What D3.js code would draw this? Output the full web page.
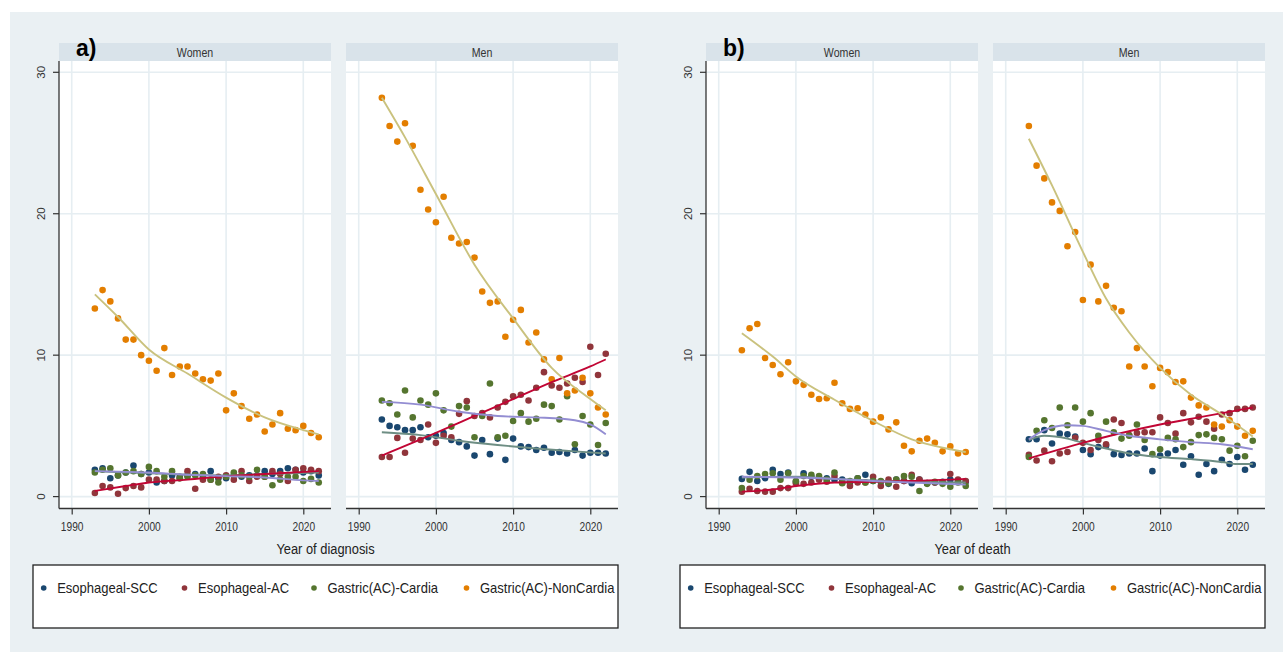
<!DOCTYPE html>
<html>
<head>
<meta charset="utf-8">
<script src="https://cdn.jsdelivr.net/npm/d3@7"></script>
<style>
  body { margin: 0; background: #fff; }
  svg { display: block; font-family: "Liberation Sans", Arial, sans-serif; }
</style>
</head>
<body>
<svg id="chart" width="1283" height="652"></svg>
<script>
// ---- data (rates) ----
const years = [1993,1994,1995,1996,1997,1998,1999,2000,2001,2002,2003,2004,2005,2006,2007,
               2008,2009,2010,2011,2012,2013,2014,2015,2016,2017,2018,2019,2020,2021,2022];
const seriesNames = ["Esophageal-SCC", "Esophageal-AC", "Gastric(AC)-Cardia", "Gastric(AC)-NonCardia"];
const sexes = ["Women", "Men"];
const xTicks = [1990, 2000, 2010, 2020];
const yTicks = [0, 10, 20, 30];

// a) year of diagnosis
const diagWomenSCC = [1.9,2.0,1.3,1.5,1.7,2.2,1.6,1.7,1.0,1.1,1.5,1.4,1.5,1.6,1.4,1.8,1.3,1.3,1.5,1.4,1.5,1.5,1.8,1.6,1.8,2.0,1.9,1.7,1.8,1.5];
const diagWomenAC = [0.25,0.75,0.65,0.2,0.6,0.75,0.65,1.2,1.2,1.1,1.1,1.3,1.8,0.55,1.2,1.2,1.4,1.5,1.2,1.8,1.1,1.4,1.4,1.8,1.6,1.1,1.9,2.0,1.9,1.8];
const diagWomenCardia = [1.7,1.9,2.0,1.5,1.7,1.8,1.6,2.1,1.8,1.4,1.8,1.3,1.4,1.5,1.6,1.2,1.0,1.4,1.7,1.5,1.4,1.9,1.4,0.8,1.2,1.4,1.4,1.1,1.25,1.0];
const diagWomenNonCardia = [13.3,14.6,13.8,12.6,11.1,11.1,10.0,9.6,8.9,10.5,8.6,9.2,9.2,8.7,8.3,8.2,8.7,6.1,7.3,6.4,5.5,5.8,4.6,5.1,5.9,4.8,4.7,5.0,4.5,4.2];

const diagMenSCC = [5.45,5.0,4.9,4.7,4.7,4.9,4.2,4.3,4.5,4.0,3.85,3.55,2.9,4.0,3.0,4.1,2.6,4.1,3.55,3.5,3.3,3.45,3.1,3.15,3.05,3.3,2.9,3.1,3.1,3.05];
const diagMenAC = [2.8,2.8,4.15,3.1,4.1,4.0,5.1,3.8,4.3,4.2,5.85,6.75,5.7,5.9,5.6,6.3,6.7,7.1,7.2,6.8,7.7,8.8,7.85,7.7,8.0,8.4,8.1,10.6,8.6,10.1];
const diagMenCardia = [6.8,6.6,5.8,7.5,5.6,6.8,6.5,7.3,6.1,4.95,6.4,6.3,4.2,5.7,8.0,4.2,4.3,5.35,5.9,5.3,5.5,6.5,6.4,5.45,7.1,3.7,5.7,5.1,3.65,5.2];
const diagMenNonCardia = [28.2,26.2,25.1,26.4,24.8,21.7,20.3,19.4,21.2,18.3,17.9,18.0,16.9,14.5,13.7,13.8,11.3,12.5,13.2,10.9,11.6,9.7,8.3,9.8,7.3,7.5,8.4,7.3,6.3,5.8];

// b) year of death
const deathWomenSCC = [1.25,1.75,1.1,1.3,1.9,1.6,1.7,1.05,1.65,1.4,1.3,1.3,1.2,1.2,1.0,1.3,1.55,1.1,1.05,0.9,1.2,1.1,0.95,1.2,0.95,1.0,1.05,1.2,1.1,1.05];
const deathWomenAC = [0.35,0.55,0.4,0.35,0.35,0.6,0.6,0.95,0.9,1.0,1.2,1.05,1.45,1.0,0.75,1.0,1.0,1.4,0.75,1.2,0.7,1.1,1.55,1.2,0.95,1.0,1.0,1.6,1.2,1.1];
const deathWomenCardia = [0.6,1.2,1.45,1.6,1.65,1.2,1.65,1.1,1.45,1.55,1.45,1.2,1.7,0.95,1.1,1.3,1.0,1.1,1.1,0.95,1.2,1.45,1.4,0.4,0.9,1.05,0.9,0.7,1.0,0.75];
const deathWomenNonCardia = [10.35,11.9,12.2,9.8,9.3,8.65,9.5,8.15,7.9,7.2,6.9,6.95,8.05,6.6,6.2,6.25,5.8,5.3,5.6,4.75,5.25,3.6,3.2,3.95,4.1,3.8,3.2,3.55,3.05,3.15];

const deathMenSCC = [4.05,4.05,4.7,3.75,4.45,4.4,4.25,3.3,3.0,3.5,3.6,3.0,2.95,3.05,3.05,3.4,1.8,2.9,3.05,3.3,2.25,2.85,1.55,2.3,1.8,2.6,2.3,2.8,1.9,2.25];
const deathMenAC = [2.95,2.55,3.25,2.5,3.05,3.15,4.15,3.8,3.3,4.0,3.7,5.45,5.2,4.35,4.5,4.55,4.55,5.6,5.2,4.45,5.9,5.25,5.65,5.3,4.8,5.8,5.9,6.2,6.2,6.3];
const deathMenCardia = [2.8,4.65,5.4,4.85,6.3,5.05,6.3,5.3,5.9,4.3,5.3,4.55,4.1,4.3,5.1,4.0,3.0,3.35,4.15,4.05,3.5,3.85,4.35,4.4,4.15,4.05,3.25,3.6,2.85,3.95];
const deathMenNonCardia = [26.2,23.4,22.5,20.8,20.2,17.7,18.7,13.9,16.4,13.8,14.9,13.35,13.1,9.2,10.5,9.2,7.8,9.1,8.8,8.1,8.15,7.0,6.45,6.3,5.1,4.95,5.4,4.95,4.3,4.65];

// fitted curves, [year, value]
const fitDiagWomen = [
  [[1993,1.8],[2000,1.65],[2005,1.55],[2010,1.5],[2015,1.6],[2022,1.7]],
  [[1993,0.4],[1997,0.75],[2000,1.0],[2005,1.2],[2010,1.45],[2015,1.6],[2022,1.8]],
  [[1993,1.8],[2000,1.7],[2005,1.55],[2010,1.45],[2015,1.35],[2020,1.15],[2022,1.1]],
  [[1993,14.3],[1996,12.7],[2000,10.4],[2005,8.7],[2010,7.0],[2015,5.6],[2020,4.7],[2022,4.4]]
];
const fitDiagMen = [
  [[1993,4.55],[1998,4.35],[2003,3.95],[2008,3.65],[2013,3.4],[2018,3.2],[2022,3.05]],
  [[1993,2.9],[2000,4.5],[2005,5.7],[2010,6.9],[2015,8.1],[2020,9.2],[2022,9.7]],
  [[1993,6.7],[1998,6.5],[2003,6.0],[2008,5.7],[2013,5.6],[2018,5.4],[2020,5.1],[2022,4.4]],
  [[1993,28.2],[1996,25.4],[2000,21.4],[2005,16.4],[2010,12.6],[2015,9.1],[2020,6.9],[2022,6.1]]
];
const fitDeathWomen = [
  [[1993,1.35],[2000,1.4],[2005,1.25],[2010,1.15],[2015,1.05],[2022,1.0]],
  [[1993,0.35],[1997,0.5],[2000,0.75],[2005,1.0],[2010,1.05],[2015,1.1],[2022,1.25]],
  [[1993,1.4],[2000,1.35],[2005,1.25],[2010,1.1],[2015,1.0],[2022,0.85]],
  [[1993,11.55],[1997,9.9],[2000,8.5],[2005,6.85],[2010,5.35],[2015,4.05],[2020,3.35],[2022,3.15]]
];
const fitDeathMen = [
  [[1993,4.0],[1995,4.3],[1998,4.1],[2000,3.8],[2003,3.4],[2006,3.05],[2010,2.8],[2014,2.65],[2018,2.45],[2020,2.3],[2022,2.3]],
  [[1993,2.7],[2000,3.8],[2005,4.5],[2010,5.1],[2015,5.6],[2020,6.1],[2022,6.3]],
  [[1993,4.05],[1995,4.7],[1998,5.05],[2000,5.0],[2003,4.65],[2006,4.3],[2010,4.05],[2014,3.85],[2018,3.7],[2022,3.35]],
  [[1993,25.3],[1996,22.0],[2000,17.3],[2003,14.0],[2006,11.6],[2010,9.1],[2014,7.2],[2018,5.8],[2022,4.25]]
];

// ---- styles ----
const dotColors = ["#1a476f", "#90353b", "#55752f", "#e37e00"];
const fitColors = ["#6e8e84", "#c10534", "#938dd2", "#cac27e"];

const panels = [
  { label: "a)", title: "Year of diagnosis", dx: 0,
    facets: [[diagWomenSCC, diagWomenAC, diagWomenCardia, diagWomenNonCardia],
             [diagMenSCC, diagMenAC, diagMenCardia, diagMenNonCardia]],
    fits: [fitDiagWomen, fitDiagMen] },
  { label: "b)", title: "Year of death", dx: 647,
    facets: [[deathWomenSCC, deathWomenAC, deathWomenCardia, deathWomenNonCardia],
             [deathMenSCC, deathMenAC, deathMenCardia, deathMenNonCardia]],
    fits: [fitDeathWomen, fitDeathMen] }
];

const facetLeft = [59, 346], facetW = 272;
const stripTop = 43, plotTop = 61, plotBottom = 508.5;
const legendX = 33, legendW = 585, legendY = 565, legendH = 63;
const legendDots = [10.7, 151.5, 281, 433.5];

const svg = d3.select("#chart");
svg.append("rect").attr("x", 10).attr("y", 12).attr("width", 1273).attr("height", 640)
  .attr("fill", "#eaf0f3");

const y = d3.scaleLinear().domain([0, 30]).range([496.6, 72.3]);
const line = d3.line().x(d => d.x).y(d => d.y).curve(d3.curveMonotoneX);

panels.forEach(function(p, pi) {
  let g = svg.append("g").attr("transform", "translate(" + p.dx + ",0)");

  sexes.forEach(function(sex, fi) {
    let left = facetLeft[fi];
    let x = d3.scaleLinear().domain([1990, 2020]).range([left + 12.7, left + 12.7 + 231.6]);

    // strip
    g.append("rect").attr("x", left).attr("y", stripTop).attr("width", facetW)
      .attr("height", plotTop - stripTop).attr("fill", "#d9e3ea");
    g.append("text").attr("transform", "translate(" + (left + facetW / 2) + ",56.5) scale(0.85,1)")
      .attr("text-anchor", "middle").style("font-size", "12.5px").attr("fill", "#333").text(sex);

    // plot region + grid
    g.append("rect").attr("x", left).attr("y", plotTop).attr("width", facetW)
      .attr("height", plotBottom - plotTop).attr("fill", "#fff");
    g.append("g").selectAll("line").data(yTicks).enter().append("line")
      .attr("x1", left).attr("x2", left + facetW)
      .attr("y1", d => y(d)).attr("y2", d => y(d))
      .attr("stroke", "#e6eef2").attr("stroke-width", 1.6);
    g.append("g").selectAll("line").data(xTicks).enter().append("line")
      .attr("x1", d => x(d)).attr("x2", d => x(d))
      .attr("y1", plotTop).attr("y2", plotBottom)
      .attr("stroke", "#e6eef2").attr("stroke-width", 1.6);

    // x axis
    let xa = g.append("g").attr("transform", "translate(0," + plotBottom + ")")
      .call(d3.axisBottom(x).tickValues(xTicks).tickFormat(d3.format("d")).tickSize(6));
    xa.select(".domain").remove();
    xa.selectAll(".tick line").attr("stroke", "#333").attr("stroke-width", 1.2);
    xa.selectAll(".tick text").attr("y", 23).attr("dy", null).attr("fill", "#333")
      .attr("transform", "scale(0.85,1)").style("font-size", "12px").style("font-family", null);
    xa.attr("font-family", null).attr("font-size", null);
    g.append("line").attr("x1", left).attr("x2", left + facetW)
      .attr("y1", plotBottom).attr("y2", plotBottom).attr("stroke", "#333").attr("stroke-width", 1.3);

    // y axis on first facet only
    if (fi === 0) {
      g.append("line").attr("x1", left).attr("x2", left)
        .attr("y1", plotTop).attr("y2", plotBottom).attr("stroke", "#333").attr("stroke-width", 1.3);
      let ya = g.append("g");
      ya.selectAll("line").data(yTicks).enter().append("line")
        .attr("x1", left - 6).attr("x2", left).attr("y1", d => y(d)).attr("y2", d => y(d))
        .attr("stroke", "#333").attr("stroke-width", 1.2);
      ya.selectAll("text").data(yTicks).enter().append("text")
        .attr("transform", d => "translate(" + (left - 14) + "," + y(d) + ") rotate(-90)")
        .attr("text-anchor", "middle").style("font-size", "11.5px").attr("fill", "#333")
        .text(d => d);
    }

    // points
    p.facets[fi].forEach(function(vals, si) {
      g.append("g").selectAll("circle").data(years).enter().append("circle")
        .attr("cx", d => x(d)).attr("cy", (d, i) => y(vals[i])).attr("r", 3.3)
        .attr("fill", dotColors[si]);
    });

    // fitted lines
    p.fits[fi].forEach(function(pts, si) {
      g.append("path")
        .attr("d", line(pts.map(d => ({ x: x(d[0]), y: y(d[1]) }))))
        .attr("fill", "none").attr("stroke", fitColors[si]).attr("stroke-width", 1.9);
    });
  });

  // panel label
  g.append("text").attr("x", 76).attr("y", 56).style("font-size", "23px")
    .style("font-weight", "bold").attr("fill", "#000").text(p.label);

  // axis title
  g.append("text").attr("transform", "translate(" + (legendX + legendW / 2) + ",554) scale(0.92,1)")
    .attr("text-anchor", "middle").style("font-size", "14px").attr("fill", "#222").text(p.title);

  // legend
  g.append("clipPath").attr("id", "lc" + pi).append("rect")
    .attr("x", legendX).attr("y", legendY).attr("width", legendW).attr("height", legendH);
  let lg = g.append("g").attr("clip-path", "url(#lc" + pi + ")");
  lg.append("rect").attr("x", legendX).attr("y", legendY).attr("width", legendW)
    .attr("height", legendH).attr("fill", "#fff");
  seriesNames.forEach(function(name, si) {
    let lx = legendX + legendDots[si];
    lg.append("circle").attr("cx", lx).attr("cy", 588).attr("r", 2.8).attr("fill", dotColors[si]);
    lg.append("text").attr("transform", "translate(" + (lx + 13.5) + ",593) scale(0.93,1)")
      .style("font-size", "14px").attr("fill", "#222").text(name);
  });
  g.append("rect").attr("x", legendX).attr("y", legendY).attr("width", legendW)
    .attr("height", legendH).attr("fill", "none").attr("stroke", "#222").attr("stroke-width", 1.3);
});
</script>
</body>
</html>
